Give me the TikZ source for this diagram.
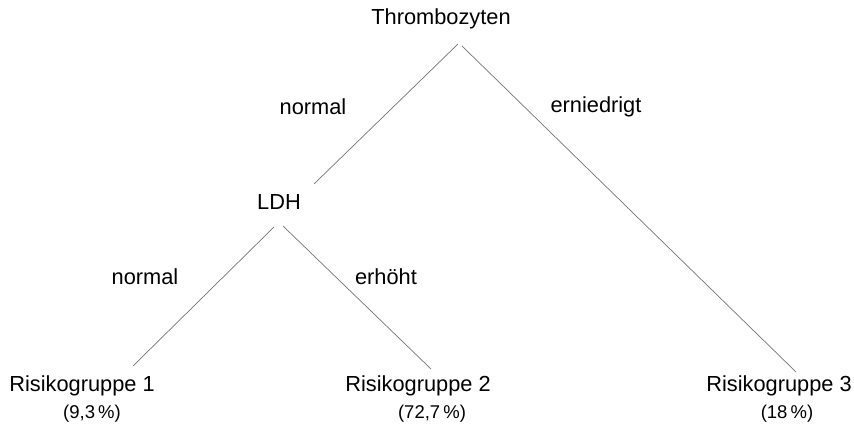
\documentclass[tikz,border=0pt]{standalone}
\usepackage{fontspec}
\setmainfont{Liberation Sans}
\begin{document}
\begin{tikzpicture}[x=1pt,y=-1pt,
  lbl/.style={inner sep=0pt,font=\fontsize{21.8}{25}\selectfont},
  pct/.style={inner sep=0pt,font=\fontsize{18.5}{22}\selectfont},
  edge/.style={draw=black!55,line width=0.7pt}]
\useasboundingbox (0,0) rectangle (854,430);
\node[lbl] (thr) at (441,19) {Thrombozyten};
\node[lbl] (ldh) at (279,202) {LDH};
\node[lbl] (r1) at (82,386) {Risikogruppe 1};
\node[lbl] (r2) at (418,386) {Risikogruppe 2};
\node[lbl] (r3) at (779,386) {Risikogruppe 3};
\node[pct] (p1) at (92,414) {(9,3\,\%)};
\node[pct] (p2) at (432,414) {(72,7\,\%)};
\node[pct] (p3) at (787,414) {(18\,\%)};
\node[lbl] (n1) at (313,107) {normal};
\node[lbl] (e1) at (596,107) {erniedrigt};
\node[lbl] (n2) at (145,277) {normal};
\node[lbl] (e2) at (386,277) {erhöht};
\coordinate (ta) at (458,44);
\coordinate (tb) at (462,46);
\coordinate (la) at (314,184);
\coordinate (lb) at (274,227);
\coordinate (lc) at (283,226);
\coordinate (ra) at (133,366);
\coordinate (rb) at (431,369);
\coordinate (rc) at (796,372);
\draw[edge] (ta) -- (la);
\draw[edge] (tb) -- (rc);
\draw[edge] (lb) -- (ra);
\draw[edge] (lc) -- (rb);
\end{tikzpicture}
\end{document}
